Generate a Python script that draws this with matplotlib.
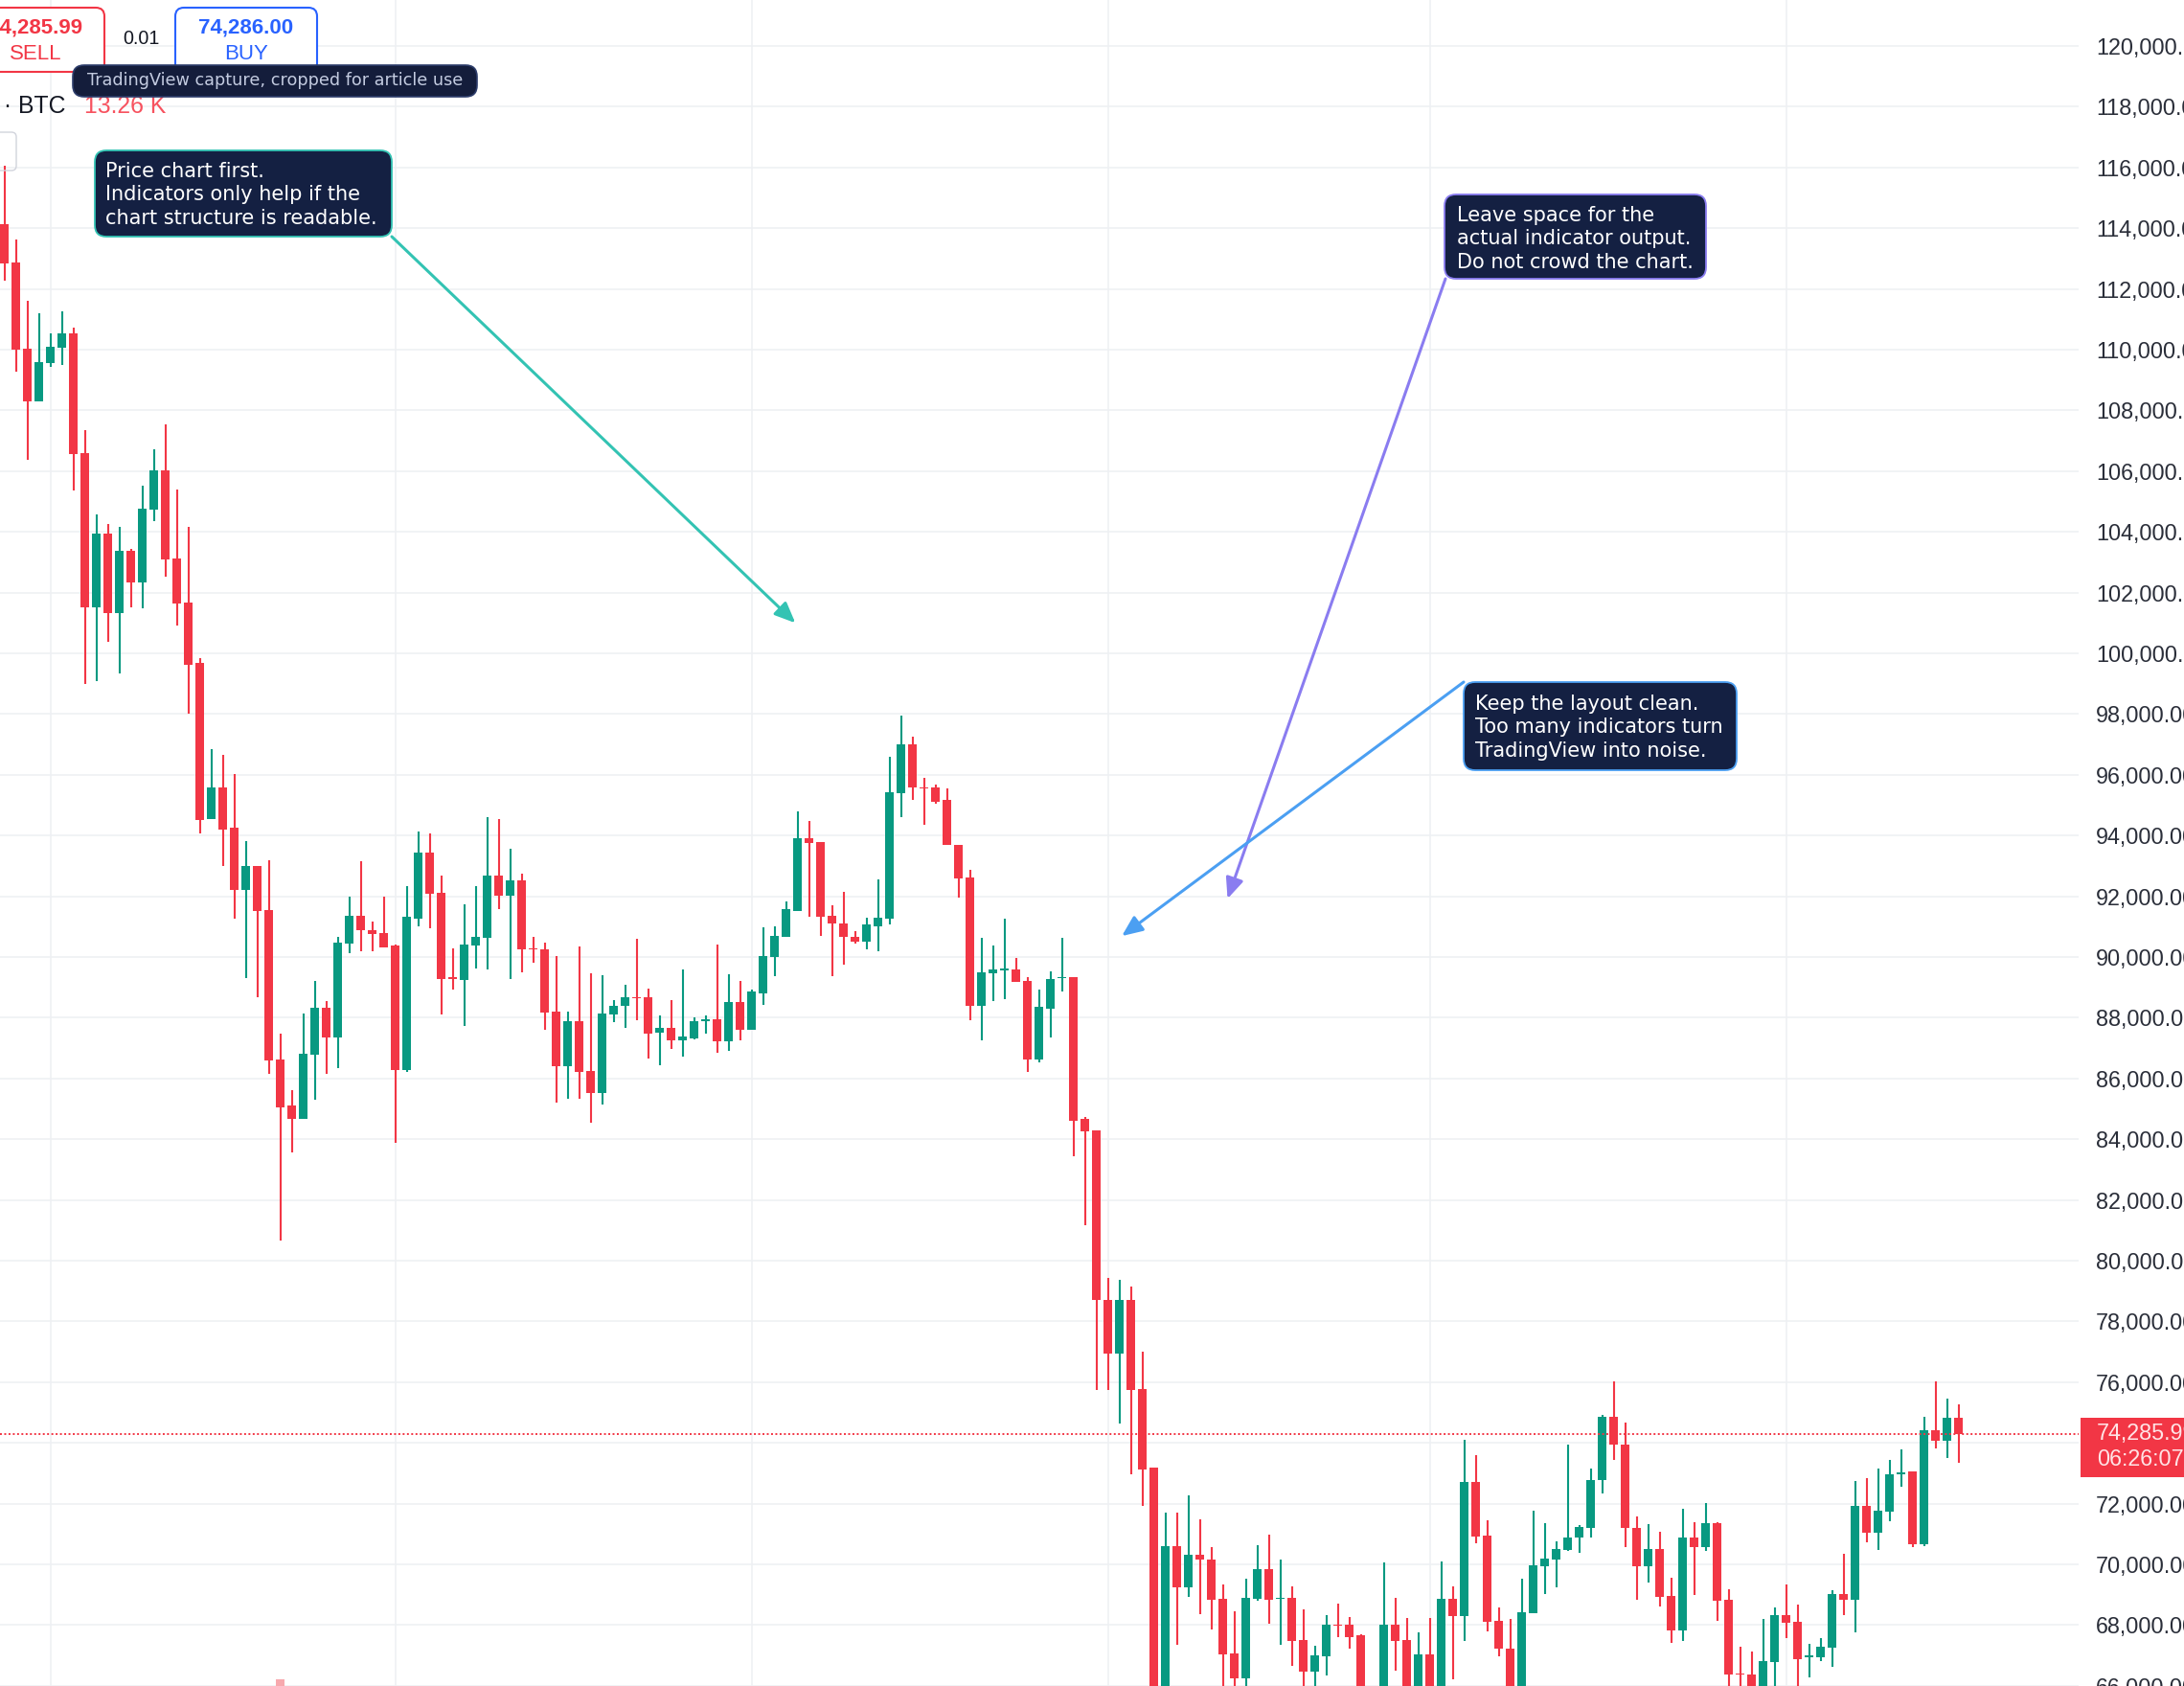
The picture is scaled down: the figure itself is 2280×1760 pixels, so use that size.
import numpy as np
import matplotlib
matplotlib.use("Agg")
import matplotlib.pyplot as plt
import matplotlib.transforms as mtransforms
from matplotlib.patches import FancyBboxPatch, Rectangle

# daily BTC candles, prices in thousands of USD
opens = [114.13, 112.87, 110.04, 108.30, 109.56, 110.07, 110.55, 106.58, 101.52, 103.94,
         101.34, 103.39, 102.34, 104.72, 106.04, 103.12, 101.68, 99.70, 94.54, 95.59,
         94.25, 92.20, 92.99, 91.54, 86.63, 85.10, 84.68, 86.79, 88.34, 87.35,
         90.43, 91.37, 90.89, 90.79, 90.37, 86.27, 91.26, 93.45, 92.12, 89.35,
         89.24, 90.38, 90.63, 92.69, 92.01, 92.51, 90.29, 90.24, 88.21, 86.40,
         87.89, 86.24, 85.51, 88.11, 88.38, 88.66, 88.66, 87.51, 87.68, 87.24,
         87.33, 87.89, 87.95, 87.21, 88.53, 87.61, 88.80, 90.01, 90.65, 91.53,
         93.92, 93.78, 91.35, 91.11, 90.67, 90.51, 91.02, 91.27, 95.38, 97.00,
         95.59, 95.59, 95.17, 93.70, 92.62, 88.40, 89.46, 89.57, 89.59, 89.22,
         86.63, 88.30, 89.30, 89.35, 84.67, 84.30, 78.72, 76.93, 78.72, 75.77,
         73.18, 64.80, 70.60, 69.25, 70.33, 70.17, 68.85, 67.07, 66.26, 68.85,
         69.85, 68.87, 68.90, 67.50, 66.47, 66.98, 68.02, 68.02, 67.66, 65.50,
         65.30, 68.02, 67.51, 65.60, 67.02, 65.70, 68.85, 68.30, 72.72, 70.94,
         68.14, 67.24, 65.60, 68.40, 69.93, 70.17, 70.48, 70.87, 71.19, 72.77,
         74.87, 73.93, 71.21, 69.93, 70.51, 68.95, 67.82, 70.89, 70.56, 71.35,
         68.82, 66.40, 66.37, 65.60, 66.77, 68.32, 68.12, 66.95, 66.95, 67.26,
         69.01, 68.84, 71.91, 71.05, 71.75, 72.98, 73.06, 70.66, 74.42, 74.08,
         74.82]
highs = [116.06, 113.63, 111.61, 111.19, 110.55, 111.25, 110.74, 107.34, 104.57, 104.27,
         104.15, 103.45, 105.51, 106.73, 107.54, 105.41, 104.15, 99.85, 96.85, 96.65,
         96.01, 93.82, 92.99, 93.18, 87.49, 85.62, 88.15, 89.21, 88.54, 90.66,
         92.00, 93.14, 91.16, 92.00, 90.42, 92.32, 94.14, 94.08, 92.69, 90.29,
         91.75, 92.32, 94.59, 94.53, 93.58, 92.74, 90.66, 90.48, 90.03, 88.21,
         90.35, 89.47, 89.40, 88.59, 89.08, 90.61, 88.96, 88.08, 88.59, 89.58,
         88.00, 88.08, 90.42, 89.42, 89.22, 88.93, 90.99, 91.02, 91.83, 94.80,
         94.49, 93.78, 91.69, 92.15, 90.86, 91.30, 92.57, 96.58, 97.95, 97.26,
         95.91, 95.68, 95.54, 93.70, 92.88, 90.62, 90.37, 91.25, 89.98, 89.35,
         88.93, 89.54, 90.62, 89.35, 84.73, 84.30, 79.44, 79.37, 79.16, 76.99,
         73.20, 71.71, 71.71, 72.28, 71.47, 70.56, 69.35, 68.47, 69.53, 70.62,
         70.99, 70.17, 69.29, 68.53, 67.32, 68.32, 68.71, 68.27, 67.70, 65.90,
         70.06, 68.90, 68.23, 67.77, 68.23, 70.11, 69.29, 74.11, 73.60, 71.46,
         68.58, 68.21, 69.52, 71.77, 71.35, 70.77, 73.93, 71.29, 73.16, 74.93,
         76.01, 74.66, 71.58, 71.33, 71.08, 69.56, 71.84, 71.40, 72.03, 71.40,
         69.19, 67.29, 67.14, 68.19, 68.58, 69.33, 68.66, 67.37, 67.56, 69.14,
         70.35, 72.74, 72.85, 73.17, 73.43, 73.80, 73.06, 74.87, 76.01, 75.45,
         75.26]
lows = [112.27, 109.26, 106.37, 108.30, 109.44, 109.50, 105.35, 99.00, 99.07, 100.39,
        99.33, 101.52, 101.48, 104.35, 102.52, 100.90, 98.01, 94.07, 94.54, 93.01,
        91.25, 89.31, 88.68, 86.14, 80.66, 83.55, 84.68, 85.31, 86.14, 86.35,
        90.14, 90.19, 90.19, 90.32, 83.87, 86.22, 91.00, 90.94, 88.11, 88.93,
        87.72, 89.61, 89.58, 91.58, 89.29, 89.51, 89.82, 87.61, 85.19, 85.33,
        85.33, 84.53, 85.14, 87.85, 87.66, 87.93, 86.66, 86.45, 86.98, 86.72,
        87.29, 87.47, 86.84, 86.90, 87.27, 87.61, 88.42, 89.37, 90.65, 91.53,
        91.32, 90.70, 89.37, 89.75, 90.43, 90.25, 90.19, 91.06, 94.62, 95.18,
        94.36, 95.05, 93.68, 91.97, 87.91, 87.27, 88.54, 88.61, 89.19, 86.20,
        86.52, 87.35, 88.88, 83.43, 81.17, 75.74, 75.74, 74.65, 72.97, 71.94,
        62.50, 64.00, 67.34, 68.92, 68.37, 67.86, 65.90, 65.50, 65.70, 68.79,
        68.03, 67.35, 66.65, 65.60, 65.80, 66.34, 67.60, 67.21, 65.00, 64.80,
        64.90, 66.50, 65.20, 65.30, 65.30, 65.40, 66.21, 67.47, 70.69, 67.79,
        66.96, 65.20, 65.30, 68.40, 69.03, 69.24, 70.45, 70.38, 70.87, 72.33,
        73.45, 70.56, 68.84, 69.40, 68.61, 67.40, 67.47, 68.98, 70.45, 68.14,
        65.70, 65.80, 65.30, 65.40, 65.90, 67.56, 65.80, 66.29, 66.82, 66.61,
        68.32, 67.77, 70.72, 70.48, 71.43, 72.56, 70.56, 70.61, 73.82, 73.51,
        73.33]
closes = [112.85, 110.01, 108.30, 109.60, 110.10, 110.55, 106.55, 101.52, 103.94, 101.34,
          103.39, 102.34, 104.77, 106.04, 103.10, 101.64, 99.63, 94.52, 95.59, 94.21,
          92.20, 92.99, 91.51, 86.58, 85.06, 84.68, 86.82, 88.34, 87.34, 90.48,
          91.37, 90.89, 90.77, 90.32, 86.27, 91.32, 93.45, 92.08, 89.29, 89.26,
          90.42, 90.66, 92.69, 92.01, 92.51, 90.24, 90.24, 88.17, 86.40, 87.89,
          86.22, 85.51, 88.14, 88.40, 88.66, 88.63, 87.47, 87.68, 87.24, 87.37,
          87.89, 87.95, 87.22, 88.53, 87.61, 88.85, 90.04, 90.70, 91.57, 93.92,
          93.76, 91.33, 91.09, 90.65, 90.49, 91.06, 91.30, 95.42, 97.00, 95.57,
          95.55, 95.10, 93.68, 92.60, 88.40, 89.48, 89.59, 89.59, 89.19, 86.63,
          88.35, 89.28, 89.35, 84.62, 84.25, 78.70, 76.93, 78.72, 75.74, 73.13,
          64.80, 70.60, 69.25, 70.33, 70.15, 68.82, 67.03, 66.26, 68.90, 69.85,
          68.82, 68.90, 67.47, 66.47, 67.00, 68.02, 67.98, 67.60, 65.50, 65.20,
          68.02, 67.47, 65.60, 67.02, 65.70, 68.85, 68.30, 72.72, 70.91, 68.11,
          67.23, 65.60, 68.43, 69.96, 70.19, 70.51, 70.87, 71.22, 72.79, 74.87,
          73.93, 71.19, 69.93, 70.51, 68.93, 67.82, 70.89, 70.56, 71.35, 68.79,
          66.38, 66.37, 65.60, 66.80, 68.32, 68.08, 66.89, 66.98, 67.29, 69.01,
          68.84, 71.91, 71.05, 71.77, 72.98, 73.03, 70.66, 74.42, 74.08, 74.82,
          74.286]

month_starts = [4, 34, 65, 96, 124, 155]      # candle index of each month's first day
price_ticks = list(range(66000, 122000, 2000))
volume_idx = [24]                              # volume bar peeking into the view
volume_top = [66.2]

last_price = 74285.99
bid_price = "74,285.99"
ask_price = "74,286.00"
order_qty = "0.01"
countdown = "06:26:07"
volume_text = "13.26 K"

notes = [
    "Price chart first.\nIndicators only help if the\nchart structure is readable.",
    "Leave space for the\nactual indicator output.\nDo not crowd the chart.",
    "Keep the layout clean.\nToo many indicators turn\nTradingView into noise.",
]
note_targets = [(68.8, 101000), (106.4, 91920), (97.2, 90690)]

RED = "#f23645"
GREEN = "#089981"
GRID = "#eef0f3"

plt.rcParams["font.family"] = ["Liberation Sans", "DejaVu Sans"]

W, H = 2280, 1760
fig = plt.figure(figsize=(W / 100, H / 100), dpi=100)
fig.patch.set_facecolor("white")
tpx = mtransforms.Affine2D().scale(1 / W, -1 / H).translate(0, 1) + fig.transFigure

ax = fig.add_axes([0, 0, 2170 / W, 1])
for s in ax.spines.values():
    s.set_visible(False)

o = np.array(opens) * 1000
h = np.array(highs) * 1000
l = np.array(lows) * 1000
c = np.array(closes) * 1000
x = np.arange(len(o))
cols = np.where(c >= o, GREEN, RED)

ax.vlines(x, l, h, colors=cols, lw=1.5, zorder=3)
body = np.maximum(np.abs(c - o), 40)
ax.bar(x, body, bottom=np.minimum(o, c), width=0.78, color=cols, zorder=4, linewidth=0)
ax.bar(volume_idx, np.array(volume_top) * 1000 - 65000, bottom=65000, width=0.78,
       color="#f7a9ae", zorder=2, linewidth=0)

ax.axhline(last_price, color=RED, lw=1.4, ls=(0, (1, 1.3)), zorder=5)

ax.set_xlim(-0.392, 180.44)
ax.set_ylim(65994, 121514)
ax.set_xticks(month_starts)
ax.set_yticks(price_ticks)
ax.set_yticklabels(["" if t == 74000 else f"{t:,.2f}" for t in price_ticks])
ax.yaxis.tick_right()
ax.tick_params(axis="y", length=0, pad=13, labelsize=16.8, labelcolor="#2a2e39")
ax.tick_params(axis="x", length=0, labelbottom=False)
ax.grid(True, color=GRID, lw=1.1, zorder=0)
ax.set_axisbelow(True)

# last price tag on the scale
fig.add_artist(Rectangle((2172, 1480), 120, 62, transform=tpx, facecolor=RED,
                         edgecolor="none", zorder=10))
fig.text(2189, 1497, f"{last_price:,.2f}", transform=tpx, fontsize=16.8, color="#ffe3e5",
         va="center", ha="left", zorder=11)
fig.text(2189, 1524, countdown, transform=tpx, fontsize=16.8, color="#ffe3e5",
         va="center", ha="left", zorder=11)

# order panel (top left)
fig.add_artist(FancyBboxPatch((-39, 8), 148, 67, transform=tpx,
                              boxstyle="round,pad=0,rounding_size=9",
                              facecolor="white", edgecolor=RED, lw=1.5, zorder=10))
fig.text(37, 29, bid_price, transform=tpx, fontsize=16, fontweight="bold", color=RED,
         ha="center", va="center", zorder=11)
fig.text(37, 56, "SELL", transform=tpx, fontsize=16, color=RED,
         ha="center", va="center", zorder=11)
fig.text(147, 40, order_qty, transform=tpx, fontsize=14.2, color="#131722",
         ha="center", va="center", zorder=11)
fig.add_artist(FancyBboxPatch((183, 8), 148, 67, transform=tpx,
                              boxstyle="round,pad=0,rounding_size=9",
                              facecolor="white", edgecolor="#2962ff", lw=1.5, zorder=10))
fig.text(257, 29, ask_price, transform=tpx, fontsize=16, fontweight="bold", color="#2962ff",
         ha="center", va="center", zorder=11)
fig.text(257, 56, "BUY", transform=tpx, fontsize=16, color="#2962ff",
         ha="center", va="center", zorder=11)

fig.add_artist(FancyBboxPatch((76, 68), 422, 33, transform=tpx,
                              boxstyle="round,pad=0,rounding_size=12",
                              facecolor="#141d3b", edgecolor="#2d3d6b", lw=1.2, zorder=12))
fig.text(287, 84, "TradingView capture, cropped for article use", transform=tpx,
         family="DejaVu Sans", fontsize=12.7, color="#c3cbe0",
         ha="center", va="center", zorder=13)

fig.text(4, 111, "· BTC", transform=tpx, fontsize=17.8, color="#131722",
         ha="left", va="center", zorder=11)
fig.text(88, 111, volume_text, transform=tpx, fontsize=17.8, color="#f7525f",
         ha="left", va="center", zorder=11)
fig.add_artist(FancyBboxPatch((-12, 138), 29, 40, transform=tpx,
                              boxstyle="round,pad=0,rounding_size=5",
                              facecolor="none", edgecolor="#d1d4dc", lw=1.0, zorder=10))

# annotation boxes and arrows
boxes = [(99, 157, 310, 90), (1508, 203, 273, 88), (1528, 712, 285, 92)]
text_pos = [(110, 177), (1521, 223), (1540, 733)]
edges = ["#33c3b3", "#8a7cf0", "#4b9ff2"]
starts = [(409, 247), (1509, 291), (1528, 712)]
for note, (bx, by, bw, bh), (tx, ty), ec, st, tgt in zip(notes, boxes, text_pos, edges,
                                                       starts, note_targets):
    fig.add_artist(FancyBboxPatch((bx, by), bw, bh, transform=tpx,
                                  boxstyle="round,pad=0,rounding_size=12",
                                  facecolor="#142042", edgecolor=ec, lw=1.3, zorder=12))
    fig.text(tx, ty - 8, note, transform=tpx, family="DejaVu Sans", fontsize=15,
             color="white", ha="left", va="top", linespacing=1.28, zorder=13)
    ax.annotate("", xy=tgt, xycoords="data", xytext=st, textcoords=tpx,
                arrowprops=dict(arrowstyle="-|>,head_length=0.65,head_width=0.28",
                                mutation_scale=20, color=ec, lw=2.2,
                                shrinkA=0, shrinkB=0), zorder=8)

fig.savefig("out.png", dpi=100, facecolor="white")
